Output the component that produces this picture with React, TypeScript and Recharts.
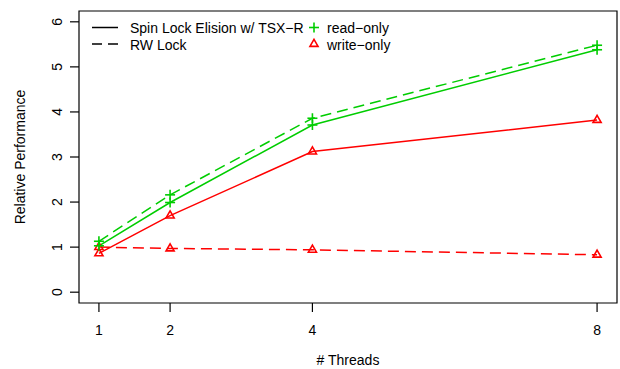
import React from 'react';
import { LineChart, Line, XAxis, YAxis, ReferenceArea, Legend } from 'recharts';

const threads = [1, 2, 4, 8];
const tsxReadOnly = [1.03, 1.99, 3.71, 5.38];
const tsxWriteOnly = [0.86, 1.7, 3.12, 3.82];
const rwReadOnly = [1.13, 2.16, 3.86, 5.48];
const rwWriteOnly = [1.0, 0.97, 0.94, 0.83];
const xTicks = [1, 2, 4, 8];
const yTicks = [0, 1, 2, 3, 4, 5, 6];
const legendLines = ['Spin Lock Elision w/ TSX\u2212R', 'RW Lock'];
const legendMarks = ['read\u2212only', 'write\u2212only'];

const GREEN = '#00CD00';
const RED = '#FF0000';
const FONT = '"Liberation Sans", Arial, Helvetica, sans-serif';
const DASH = '11 6';

const data = threads.map((t, i) => ({
  threads: t,
  tsxRead: tsxReadOnly[i],
  tsxWrite: tsxWriteOnly[i],
  rwRead: rwReadOnly[i],
  rwWrite: rwWriteOnly[i],
}));

const PlusDot = (props: any) => {
  const { cx, cy, index } = props;
  if (cx == null || cy == null) return <g key={index} />;
  return (
    <g key={index}>
      <line x1={cx - 5} x2={cx + 5} y1={cy} y2={cy} stroke={GREEN} strokeWidth={1.6} />
      <line x1={cx} x2={cx} y1={cy - 5} y2={cy + 5} stroke={GREEN} strokeWidth={1.6} />
    </g>
  );
};

const TriDot = (props: any) => {
  const { cx, cy, index } = props;
  if (cx == null || cy == null) return <g key={index} />;
  return (
    <path
      key={index}
      d={`M${cx},${cy - 4.7} L${cx + 4.05},${cy + 2.35} L${cx - 4.05},${cy + 2.35} Z`}
      fill="none"
      stroke={RED}
      strokeWidth={1.6}
    />
  );
};

const XTick = (props: any) => {
  const { x, y, payload } = props;
  return (
    <text x={x} y={y + 21} textAnchor="middle" fontSize={14} fontFamily={FONT} fill="#000">
      {payload.value}
    </text>
  );
};

const YTick = (props: any) => {
  const { x, y, payload } = props;
  const bx = x - 6;
  return (
    <text
      x={bx}
      y={y}
      transform={`rotate(-90 ${bx} ${y})`}
      textAnchor="middle"
      fontSize={14}
      fontFamily={FONT}
      fill="#000"
    >
      {payload.value}
    </text>
  );
};

const YLabel = (props: any) => {
  const vb = props.viewBox || {};
  const cy = (vb.y ?? 11) + (vb.height ?? 292) / 2;
  const bx = 25;
  return (
    <text
      x={bx}
      y={cy}
      transform={`rotate(-90 ${bx} ${cy})`}
      textAnchor="middle"
      fontSize={14}
      fontFamily={FONT}
      fill="#000"
    >
      Relative Performance
    </text>
  );
};

const XLabel = (props: any) => {
  const vb = props.viewBox || {};
  const cx = (vb.x ?? 79) + (vb.width ?? 538) / 2;
  return (
    <text x={cx} y={365} textAnchor="middle" fontSize={14} fontFamily={FONT} fill="#000">
      # Threads
    </text>
  );
};

const LegendContent = () => (
  <svg width={620} height={60} style={{ display: 'block' }}>
    <line x1={92} x2={118} y1={27.5} y2={27.5} stroke="#000" strokeWidth={1.5} />
    <line x1={92} x2={118} y1={44} y2={44} stroke="#000" strokeWidth={1.5} strokeDasharray="10 6" />
    <text x={130} y={33} fontSize={14} fontFamily={FONT} fill="#000">{legendLines[0]}</text>
    <text x={130} y={50} fontSize={14} fontFamily={FONT} fill="#000">{legendLines[1]}</text>
    <line x1={309} x2={319} y1={27.5} y2={27.5} stroke={GREEN} strokeWidth={1.6} />
    <line x1={314} x2={314} y1={22.5} y2={32.5} stroke={GREEN} strokeWidth={1.6} />
    <path d={`M314,${44 - 4.7} L${314 + 4.05},${44 + 2.35} L${314 - 4.05},${44 + 2.35} Z`} fill="none" stroke={RED} strokeWidth={1.6} />
    <text x={327} y={33} fontSize={14} fontFamily={FONT} fill="#000">{legendMarks[0]}</text>
    <text x={327} y={50} fontSize={14} fontFamily={FONT} fill="#000">{legendMarks[1]}</text>
  </svg>
);

export default function App() {
  return (
    <div style={{ position: 'absolute', left: 0, top: 0, width: 620, height: 369, background: '#fff', fontFamily: FONT }}>
      <LineChart width={620} height={369} data={data} margin={{ top: 11, right: 3, left: 39, bottom: 36 }}>
        <XAxis
          type="number"
          dataKey="threads"
          domain={[0.72, 8.28]}
          ticks={xTicks}
          allowDataOverflow
          axisLine={false}
          tickLine={{ stroke: '#000', strokeWidth: 1.2 }}
          tickSize={9}
          height={30}
          tick={<XTick />}
          label={<XLabel />}
        />
        <YAxis
          type="number"
          domain={[-0.24, 6.24]}
          ticks={yTicks}
          allowDataOverflow
          axisLine={false}
          tickLine={{ stroke: '#000', strokeWidth: 1.2 }}
          tickSize={9}
          width={40}
          tick={<YTick />}
          label={<YLabel />}
        />
        <ReferenceArea x1={0.72} x2={8.28} y1={-0.24} y2={6.24} fill="none" fillOpacity={0} stroke="#000" strokeWidth={1.2} />
        <Legend
          layout="horizontal"
          verticalAlign="middle"
          align="center"
          content={<LegendContent />}
          wrapperStyle={{ position: 'absolute', left: 0, top: 0, width: 620, height: 60 }}
        />
        <Line type="linear" dataKey="rwWrite" stroke={RED} strokeWidth={1.5} strokeDasharray={DASH} dot={<TriDot />} activeDot={false} isAnimationActive={false} legendType="none" />
        <Line type="linear" dataKey="tsxWrite" stroke={RED} strokeWidth={1.5} dot={<TriDot />} activeDot={false} isAnimationActive={false} legendType="none" />
        <Line type="linear" dataKey="rwRead" stroke={GREEN} strokeWidth={1.5} strokeDasharray={DASH} dot={<PlusDot />} activeDot={false} isAnimationActive={false} legendType="none" />
        <Line type="linear" dataKey="tsxRead" stroke={GREEN} strokeWidth={1.5} dot={<PlusDot />} activeDot={false} isAnimationActive={false} legendType="none" />
      </LineChart>
    </div>
  );
}
